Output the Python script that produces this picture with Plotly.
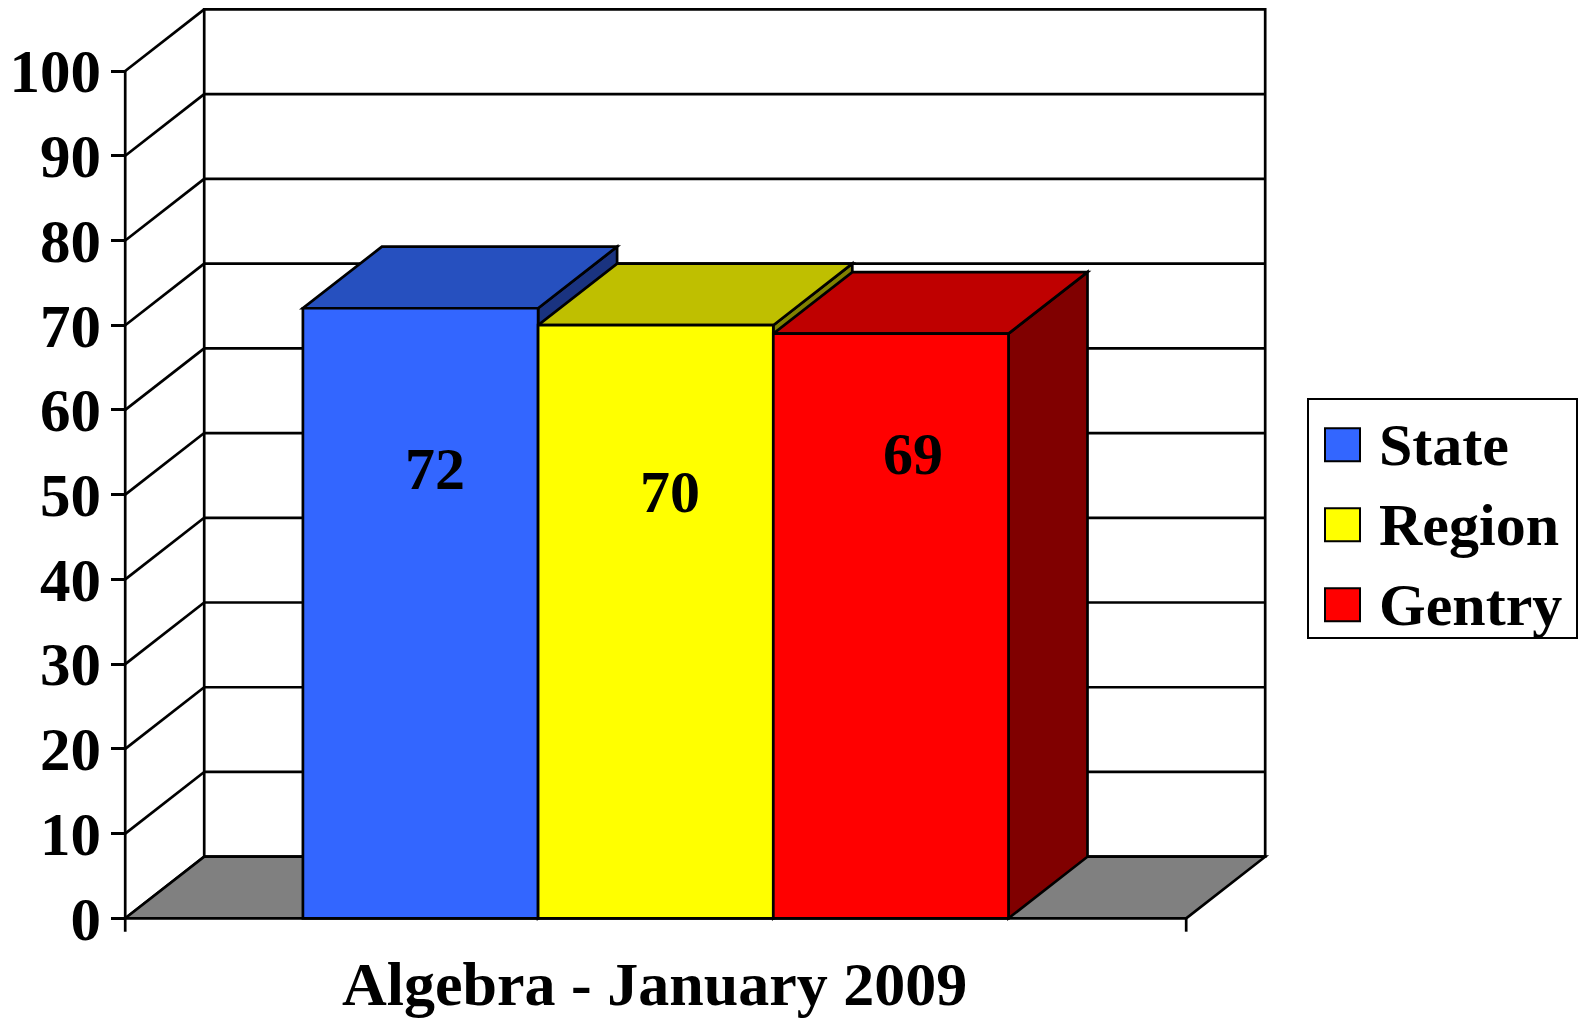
import plotly.graph_objects as go

# ---- data ----
series = ["State", "Region", "Gentry"]
values = [72, 70, 69]
category_label = "Algebra - January 2009"
y_ticks = [0, 10, 20, 30, 40, 50, 60, 70, 80, 90, 100]

# ---- styles ----
front_colors = ["#3366FF", "#FFFF00", "#FF0000"]
top_colors = ["#2650BF", "#BFBF00", "#BF0000"]
side_colors = ["#1A3380", "#808000", "#800000"]
FLOOR = "#808080"
FONT = "Liberation Serif"
LW = 2.7

# ---- geometry (layout) ----
W, H = 1579, 1018
Y0_PX = 918.3          # pixel row of value 0 (front)
PPU = 8.4728           # pixels per value unit
CAT_PX = 235.2         # pixels per category
CAT0_PX = 420.5        # pixel column of first category center
yrange = [-(H - Y0_PX) / PPU, Y0_PX / PPU]
xrange = [-CAT0_PX / CAT_PX, (W - CAT0_PX) / CAT_PX]
DX = 79.0 / CAT_PX     # depth offset (x, category units)
DY = 61.6 / PPU        # depth offset (y, value units)
PAD = 0.7555
XL = -0.5 - PAD
XR = len(series) - 0.5 + PAD
YMAX = max(y_ticks)
TICK_EXT = 13.4 / PPU

fig = go.Figure()
for i, (name, v) in enumerate(zip(series, values)):
    fig.add_bar(x=[i], y=[v], width=1, name=name, showlegend=False,
                marker=dict(color=front_colors[i], line=dict(color="black", width=LW)))

shapes = []
line = dict(color="black", width=LW)
# back wall
shapes.append(dict(type="rect", xref="x", yref="y", x0=XL + DX, x1=XR + DX, y0=DY, y1=YMAX + DY,
                   fillcolor="white", line=line, layer="below"))
# back gridlines
for t in y_ticks[1:-1]:
    shapes.append(dict(type="line", xref="x", yref="y", x0=XL + DX, x1=XR + DX, y0=t + DY, y1=t + DY,
                       line=line, layer="below"))
# side wall diagonals
for t in y_ticks:
    shapes.append(dict(type="line", xref="x", yref="y", x0=XL, x1=XL + DX, y0=t, y1=t + DY,
                       line=line, layer="below"))
# front axis line
shapes.append(dict(type="line", xref="x", yref="y", x0=XL, x1=XL, y0=-TICK_EXT, y1=YMAX,
                   line=line, layer="below"))
# floor
shapes.append(dict(type="path", xref="x", yref="y",
                   path=f"M{XL},0 L{XR},0 L{XR + DX},{DY} L{XL + DX},{DY} Z",
                   fillcolor=FLOOR, line=line, layer="below"))
shapes.append(dict(type="line", xref="x", yref="y", x0=XR, x1=XR, y0=0, y1=-TICK_EXT,
                   line=line, layer="below"))
# bar sides and tops
for i, v in enumerate(values):
    l, r = i - 0.5, i + 0.5
    shapes.append(dict(type="path", xref="x", yref="y",
                       path=f"M{r},0 L{r + DX},{DY} L{r + DX},{v + DY} L{r},{v} Z",
                       fillcolor=side_colors[i], line=line, layer="below"))
    shapes.append(dict(type="path", xref="x", yref="y",
                       path=f"M{l},{v} L{r},{v} L{r + DX},{v + DY} L{l + DX},{v + DY} Z",
                       fillcolor=top_colors[i], line=line, layer="below"))

annotations = []
# value labels
label_dx = [0.062, 0.06, 0.096]
label_y = [53.0, 50.3, 54.8]
for i, v in enumerate(values):
    annotations.append(dict(x=i + label_dx[i], y=label_y[i], xref="x", yref="y", text=str(v),
                            showarrow=False, font=dict(family=FONT, size=60, color="black", weight="bold")))
# category label
annotations.append(dict(x=654 / W, y=1 - 984 / H, xref="paper", yref="paper", text=category_label,
                        showarrow=False, xanchor="center", yanchor="middle",
                        font=dict(family=FONT, size=62, color="black", weight="bold")))

# legend (drawn manually to match large swatches)
LEG_X0, LEG_X1, LEG_Y0, LEG_Y1 = 1308, 1577, 399, 638
shapes.append(dict(type="rect", xref="paper", yref="paper", x0=LEG_X0 / W, x1=LEG_X1 / W,
                   y0=1 - LEG_Y1 / H, y1=1 - LEG_Y0 / H, fillcolor="white", line=dict(color="black", width=2)))
for k, name in enumerate(series):
    cy = 444.7 + k * 80
    shapes.append(dict(type="rect", xref="paper", yref="paper", x0=1325 / W, x1=1360 / W,
                       y0=1 - (cy + 16.5) / H, y1=1 - (cy - 16.5) / H,
                       fillcolor=front_colors[k], line=dict(color="black", width=2)))
    annotations.append(dict(x=1377 / W, y=1 - cy / H, xref="paper", yref="paper", text=name,
                            showarrow=False, xanchor="left", yanchor="middle",
                            font=dict(family=FONT, size=60, color="black", weight="bold")))

fig.update_layout(
    width=W, height=H, margin=dict(l=0, r=0, t=0, b=0, pad=0),
    paper_bgcolor="white", plot_bgcolor="white",
    barmode="overlay", showlegend=False,
    shapes=shapes, annotations=annotations,
    xaxis=dict(range=xrange, domain=[0, 1], visible=False, fixedrange=True),
    yaxis=dict(range=yrange, domain=[0, 1], anchor="free", position=(CAT0_PX + XL * CAT_PX) / W,
               tickvals=y_ticks, ticktext=[str(t) for t in y_ticks],
               ticks="outside", ticklen=14, tickwidth=LW, tickcolor="black",
               ticklabelstandoff=-2,
               showgrid=False, zeroline=False, showline=False, automargin=False, fixedrange=True,
               tickfont=dict(family=FONT, size=61, color="black", weight="bold")),
)

fig.write_html("out.html", config={"displayModeBar": False},
               post_script="document.body.style.margin='0';document.body.style.overflow='hidden';")
